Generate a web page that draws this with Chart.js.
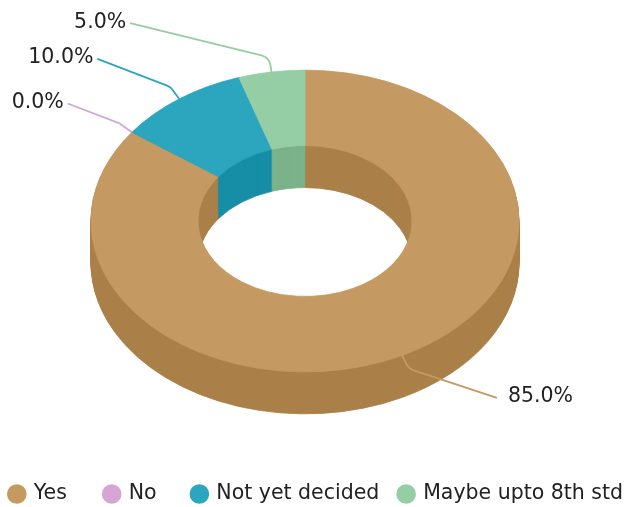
<!DOCTYPE html>
<html>
<head>
<meta charset="utf-8">
<script src="https://cdn.jsdelivr.net/npm/chart.js@4.4.1/dist/chart.umd.min.js"></script>
<style>
  html, body { margin: 0; padding: 0; background: #ffffff; }
  #wrap { width: 629px; height: 507px; }
</style>
</head>
<body>
<div id="wrap"><canvas id="chart" width="629" height="507"></canvas></div>
<script>
// Survey answers and their shares (percent)
const categories = ['Yes', 'No', 'Not yet decided', 'Maybe upto 8th std'];
const shares = [85, 0, 10, 5];
const valueLabels = ['85.0%', '0.0%', '10.0%', '5.0%'];

// Face colours and the darker wall colours of the extruded ring
const topColors = ['#C49A62', '#D5A6D3', '#2CA5BF', '#95CDA4'];
const sideColors = ['#AA8049', '#B98BB7', '#168EA6', '#7BB28A'];

// Perspective of the ring: vertical squash and wall height in px
const TILT = 0.705;
const DEPTH = 42;
const ELBOW = 15;
// Where each callout line ends, measured from its elbow
const calloutOffsets = [[88, 29], [-52, -20], [-73, -28], [-139, -34]];

const FONT = '20.5px "DejaVu Sans", sans-serif';
const TEXT_COLOR = '#222222';

// Legend row layout: left edge, baseline centre, swatch radius, gaps after each item
const LEGEND_LEFT = 7;
const LEGEND_Y = 494;
const SWATCH_R = 9.8;
const TEXT_GAP = 17;
const ITEM_GAPS = [35, 33, 17];

// Draws the doughnut as a tilted solid: stacked wall copies, then the top face
const solidRing = {
  id: 'solidRing',
  beforeDatasetsDraw(chart) {
    const ctx = chart.ctx;
    const arcs = chart.getDatasetMeta(0).data;
    const cx = arcs[0].x, cy = arcs[0].y;
    const paint = (dy, colors) => {
      ctx.save();
      ctx.translate(cx, cy + dy);
      ctx.scale(1, TILT);
      ctx.translate(-cx, -cy);
      arcs.forEach((arc, i) => {
        if (!shares[i]) return;
        const saved = arc.options;
        arc.options = Object.assign({}, saved, {
          backgroundColor: colors[i],
          borderColor: colors[i]
        });
        arc.draw(ctx);
        arc.options = saved;
      });
      ctx.restore();
    };
    for (let d = DEPTH; d >= 1; d--) paint(d, sideColors);
    paint(0, topColors);
    return false;
  },
  afterDraw(chart) {
    const ctx = chart.ctx;
    const arcs = chart.getDatasetMeta(0).data;
    // callouts with value labels
    ctx.save();
    ctx.font = FONT;
    ctx.textBaseline = 'middle';
    ctx.lineWidth = 1.8;
    arcs.forEach((arc, i) => {
      const a = (arc.startAngle + arc.endAngle) / 2;
      const r = arc.outerRadius;
      const ax = arc.x + r * Math.cos(a);
      const ay = arc.y + TILT * r * Math.sin(a);
      const ex = ax + ELBOW * Math.cos(a);
      const ey = ay + ELBOW * Math.sin(a);
      const tx = ex + calloutOffsets[i][0];
      const ty = ey + calloutOffsets[i][1];
      ctx.strokeStyle = topColors[i];
      ctx.beginPath();
      ctx.moveTo(ax, ay);
      ctx.arcTo(ex, ey, tx, ty, 12);
      ctx.lineTo(tx, ty);
      ctx.stroke();
      ctx.fillStyle = TEXT_COLOR;
      if (tx > ax) {
        ctx.textAlign = 'left';
        ctx.fillText(valueLabels[i], tx + 11, ty - 1);
      } else {
        ctx.textAlign = 'right';
        ctx.fillText(valueLabels[i], tx - 4, ty - 1);
      }
    });
    ctx.restore();

    // legend row
    ctx.save();
    ctx.font = FONT;
    ctx.textBaseline = 'middle';
    ctx.textAlign = 'left';
    let x = LEGEND_LEFT;
    categories.forEach((c, i) => {
      const ccx = x + SWATCH_R;
      ctx.fillStyle = topColors[i];
      ctx.beginPath();
      ctx.arc(ccx, LEGEND_Y, SWATCH_R, 0, Math.PI * 2);
      ctx.fill();
      ctx.fillStyle = TEXT_COLOR;
      ctx.fillText(c, ccx + TEXT_GAP, LEGEND_Y);
      x = ccx + TEXT_GAP + ctx.measureText(c).width + (ITEM_GAPS[i] || 0);
    });
    ctx.restore();
  }
};

new Chart(document.getElementById('chart'), {
  type: 'doughnut',
  data: {
    labels: categories,
    datasets: [{
      data: shares,
      backgroundColor: topColors,
      borderColor: topColors,
      borderWidth: 1,
      radius: 214,
      cutout: '50%'
    }]
  },
  options: {
    responsive: false,
    devicePixelRatio: 1,
    animation: false,
    layout: { padding: { left: 0, right: 19, top: 0, bottom: 65 } },
    plugins: {
      legend: { display: false },
      tooltip: { enabled: false }
    }
  },
  plugins: [solidRing]
});
</script>
</body>
</html>
